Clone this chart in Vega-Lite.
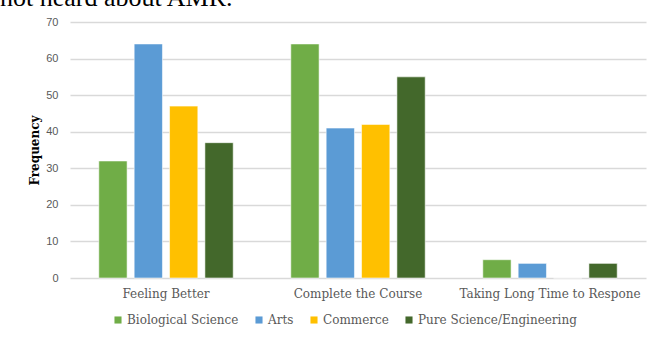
{
  "$schema": "https://vega.github.io/schema/vega-lite/v6.json",
  "width": 576,
  "height": 256,
  "autosize": {"type": "none"},
  "padding": {"left": 70, "top": 22, "right": 9, "bottom": 59},
  "background": "white",
  "title": {
    "text": "not heard about AMR.",
    "anchor": "start",
    "frame": "group",
    "orient": "top",
    "baseline": "alphabetic",
    "offset": 0,
    "dx": -70,
    "dy": 16,
    "font": "Liberation Serif",
    "fontSize": 26,
    "fontWeight": "normal",
    "color": "#000000"
  },
  "data": {
    "values": [
      {"reason": "Feeling Better", "stream": "Biological Science", "frequency": 32},
      {"reason": "Feeling Better", "stream": "Arts", "frequency": 64},
      {"reason": "Feeling Better", "stream": "Commerce", "frequency": 47},
      {"reason": "Feeling Better", "stream": "Pure Science/Engineering", "frequency": 37},
      {"reason": "Complete the Course", "stream": "Biological Science", "frequency": 64},
      {"reason": "Complete the Course", "stream": "Arts", "frequency": 41},
      {"reason": "Complete the Course", "stream": "Commerce", "frequency": 42},
      {"reason": "Complete the Course", "stream": "Pure Science/Engineering", "frequency": 55},
      {"reason": "Taking Long Time to Respone", "stream": "Biological Science", "frequency": 5},
      {"reason": "Taking Long Time to Respone", "stream": "Arts", "frequency": 4},
      {"reason": "Taking Long Time to Respone", "stream": "Commerce", "frequency": 0},
      {"reason": "Taking Long Time to Respone", "stream": "Pure Science/Engineering", "frequency": 4}
    ]
  },
  "mark": {"type": "bar", "stroke": "white", "strokeWidth": 0.8, "strokeOpacity": 0.7},
  "encoding": {
    "x": {
      "field": "reason",
      "type": "nominal",
      "sort": ["Feeling Better", "Complete the Course", "Taking Long Time to Respone"],
      "scale": {"paddingInner": 0.3, "paddingOuter": 0.15},
      "axis": {
        "title": null,
        "labelAngle": 0,
        "domain": false,
        "ticks": false,
        "labelFont": "DejaVu Serif",
        "labelFontSize": 12,
        "labelColor": "#595959",
        "labelPadding": 10,
        "labelLimit": 300
      }
    },
    "xOffset": {
      "field": "stream",
      "type": "nominal",
      "sort": ["Biological Science", "Arts", "Commerce", "Pure Science/Engineering"],
      "scale": {"paddingInner": 0.2, "paddingOuter": 0}
    },
    "y": {
      "field": "frequency",
      "type": "quantitative",
      "scale": {"domain": [0, 70]},
      "axis": {
        "title": "Frequency",
        "titleFont": "DejaVu Serif",
        "titleFontSize": 12,
        "titleFontWeight": "bold",
        "titleColor": "#000000",
        "titlePadding": 4,
        "values": [0, 10, 20, 30, 40, 50, 60, 70],
        "domain": false,
        "ticks": false,
        "grid": true,
        "gridColor": "#D9D9D9",
        "gridWidth": 1.3,
        "labelFont": "Liberation Sans",
        "labelFontSize": 11,
        "labelColor": "#595959",
        "labelPadding": 12
      }
    },
    "color": {
      "field": "stream",
      "type": "nominal",
      "scale": {
        "domain": ["Biological Science", "Arts", "Commerce", "Pure Science/Engineering"],
        "range": ["#70AD47", "#5B9BD5", "#FFC000", "#43682B"]
      },
      "legend": {
        "title": null,
        "orient": "none",
        "legendX": 42,
        "legendY": 292,
        "direction": "horizontal",
        "symbolType": "square",
        "symbolSize": 50,
        "symbolStrokeWidth": 0,
        "labelFont": "DejaVu Serif",
        "labelFontSize": 12,
        "labelColor": "#595959",
        "labelOffset": 3,
        "labelLimit": 300,
        "columnPadding": 14
      }
    }
  },
  "config": {
    "view": {"stroke": null},
    "axis": {"gridCap": "butt"}
  }
}
